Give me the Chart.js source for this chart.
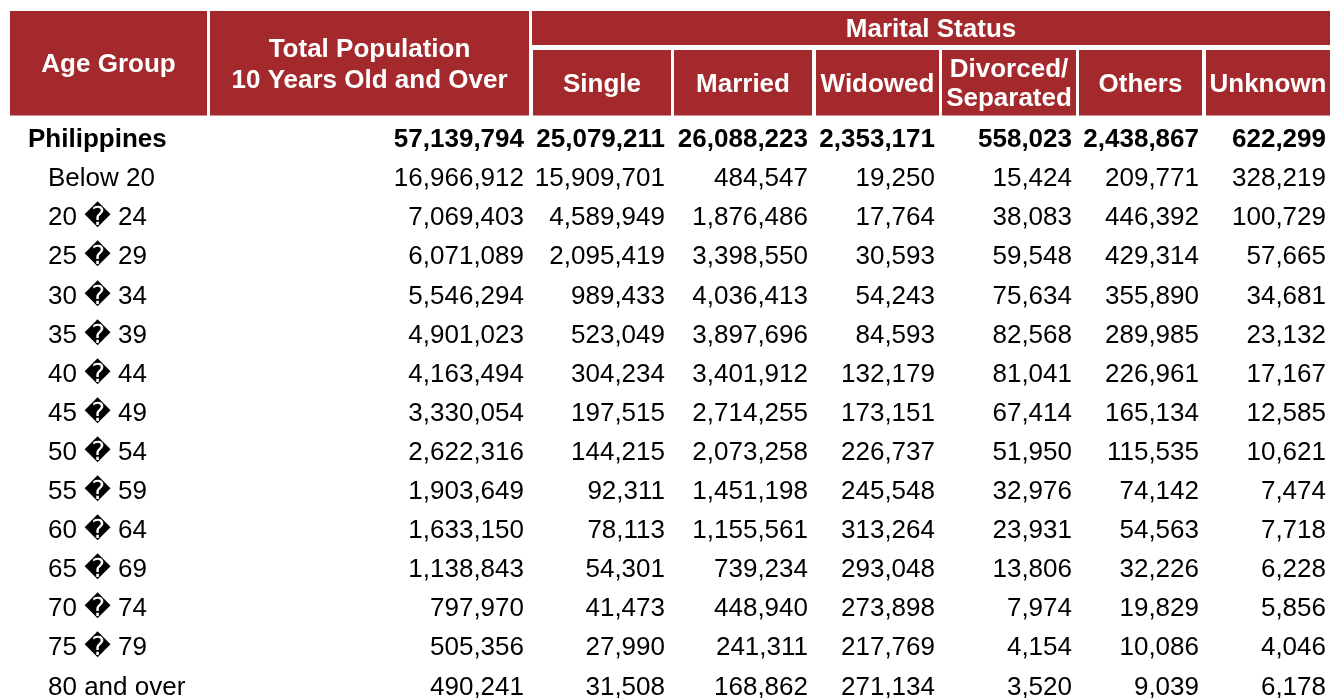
<!DOCTYPE html>
<html>
<head>
<meta charset="utf-8">
<script src="https://cdn.jsdelivr.net/npm/chart.js@4/dist/chart.umd.min.js"></script>
<style>
  html, body { margin: 0; padding: 0; background: #ffffff; overflow: hidden; }
  #wrap { position: relative; width: 1333px; height: 698px; }
</style>
</head>
<body>
<div id="wrap"><canvas id="c"></canvas></div>
<script>
// ---------------- DATA ----------------
const ageGroups = [
  'Philippines', 'Below 20', '20 \uFFFD 24', '25 \uFFFD 29', '30 \uFFFD 34', '35 \uFFFD 39',
  '40 \uFFFD 44', '45 \uFFFD 49', '50 \uFFFD 54', '55 \uFFFD 59', '60 \uFFFD 64',
  '65 \uFFFD 69', '70 \uFFFD 74', '75 \uFFFD 79', '80 and over'
];
const totalPop = [57139794, 16966912, 7069403, 6071089, 5546294, 4901023, 4163494, 3330054, 2622316, 1903649, 1633150, 1138843, 797970, 505356, 490241];
const single   = [25079211, 15909701, 4589949, 2095419, 989433, 523049, 304234, 197515, 144215, 92311, 78113, 54301, 41473, 27990, 31508];
const married  = [26088223, 484547, 1876486, 3398550, 4036413, 3897696, 3401912, 2714255, 2073258, 1451198, 1155561, 739234, 448940, 241311, 168862];
const widowed  = [2353171, 19250, 17764, 30593, 54243, 84593, 132179, 173151, 226737, 245548, 313264, 293048, 273898, 217769, 271134];
const divorced = [558023, 15424, 38083, 59548, 75634, 82568, 81041, 67414, 51950, 32976, 23931, 13806, 7974, 4154, 3520];
const others   = [2438867, 209771, 446392, 429314, 355890, 289985, 226961, 165134, 115535, 74142, 54563, 32226, 19829, 10086, 9039];
const unknown  = [622299, 328219, 100729, 57665, 34681, 23132, 17167, 12585, 10621, 7474, 7718, 6228, 5856, 4046, 6178];

const valueColumns = [totalPop, single, married, widowed, divorced, others, unknown];
const headerTitles = ['Age Group', 'Total Population\n10 Years Old and Over', 'Marital Status',
  'Single', 'Married', 'Widowed', 'Divorced/\nSeparated', 'Others', 'Unknown'];

// ---------------- LAYOUT (positions / styles, in scale units) ----------------
const FONT = '"Liberation Sans", Arial, "DejaVu Sans", sans-serif';
const RED = '#A3292D';
const colTextRight = [524, 665, 808, 935, 1072, 1199, 1326];    // x-scale units
const labelLeft = 48, totalLabelLeft = 28;                      // x-scale units
// header bands in y (row) units
const hTop = -3.274, msBottom = -2.404, subTop = -2.276, hBottom = -0.601;
const headerCells = [
  { x0: 10,  x1: 207,  y0: hTop,   y1: hBottom,  gap: 31 },
  { x0: 210, x1: 529,  y0: hTop,   y1: hBottom,  gap: 31 },
  { x0: 532, x1: 1330, y0: hTop,   y1: msBottom, gap: 28 },
  { x0: 533, x1: 671,  y0: subTop, y1: hBottom,  gap: 28 },
  { x0: 674, x1: 812,  y0: subTop, y1: hBottom,  gap: 28 },
  { x0: 816, x1: 939,  y0: subTop, y1: hBottom,  gap: 28 },
  { x0: 942, x1: 1076, y0: subTop, y1: hBottom,  gap: 29 },
  { x0: 1079,x1: 1202, y0: subTop, y1: hBottom,  gap: 28 },
  { x0: 1206,x1: 1330, y0: subTop, y1: hBottom,  gap: 28 }
];

// ---------------- DATASETS ----------------
const datasets = [];
datasets.push({
  kind: 'label',
  data: ageGroups.map((t, i) => ({ x: i === 0 ? totalLabelLeft : labelLeft, y: i, t: t })),
  pointRadius: 0
});
valueColumns.forEach((col, c) => {
  datasets.push({
    kind: 'value',
    data: col.map((v, i) => ({ x: colTextRight[c], y: i, t: v.toLocaleString('en-US') })),
    pointRadius: 0
  });
});

const tablePlugin = {
  id: 'tablePlugin',
  beforeDatasetsDraw(chart) {
    const ctx = chart.ctx, xs = chart.scales.x, ys = chart.scales.y;
    ctx.save();
    headerCells.forEach((h, k) => {
      const px0 = xs.getPixelForValue(h.x0), px1 = xs.getPixelForValue(h.x1);
      const py0 = ys.getPixelForValue(h.y0), py1 = ys.getPixelForValue(h.y1);
      ctx.fillStyle = RED;
      ctx.fillRect(px0, py0, px1 - px0, py1 - py0);
      const lines = headerTitles[k].split('\n');
      ctx.fillStyle = '#ffffff';
      ctx.font = 'bold 26px ' + FONT;
      ctx.textAlign = 'center';
      ctx.textBaseline = 'middle';
      const cx = (px0 + px1) / 2, cy = (py0 + py1) / 2;
      lines.forEach((ln, j) => {
        const off = (j - (lines.length - 1) / 2) * h.gap;
        ctx.fillText(ln, cx, cy + off + 2);
      });
    });
    ctx.restore();
  },
  afterDatasetsDraw(chart) {
    const ctx = chart.ctx;
    ctx.save();
    ctx.fillStyle = '#000000';
    ctx.textBaseline = 'middle';
    chart.data.datasets.forEach((ds, d) => {
      const meta = chart.getDatasetMeta(d);
      meta.data.forEach((el, i) => {
        ctx.font = (i === 0 ? 'bold ' : '') + '26px ' + FONT;
        ctx.textAlign = ds.kind === 'label' ? 'left' : 'right';
        ctx.fillText(ds.data[i].t, el.x, el.y + 1);
      });
    });
    ctx.restore();
  }
};

new Chart(document.getElementById('c'), {
  type: 'scatter',
  data: { datasets },
  options: {
    responsive: true,
    maintainAspectRatio: false,
    animation: false,
    events: [],
    layout: { padding: 0 },
    plugins: { legend: { display: false }, tooltip: { enabled: false } },
    scales: {
      x: { type: 'linear', display: false, min: 0, max: 1333 },
      y: { type: 'linear', display: false, reverse: true, min: -3.555, max: 14.297 }
    }
  },
  plugins: [tablePlugin]
});
</script>
</body>
</html>
